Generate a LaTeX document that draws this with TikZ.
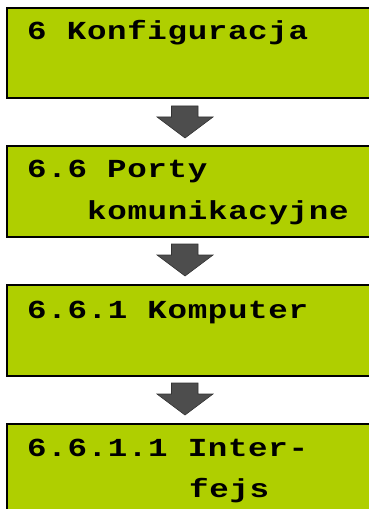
\documentclass[tikz,border=0pt]{standalone}
\usepackage{fontspec}
\newfontfamily\lcdfont[FakeStretch=1.25,LetterSpace=2.5]{Liberation Mono}
\definecolor{lcdgreen}{RGB}{175,207,0}
\definecolor{arrowgray}{RGB}{77,77,77}
\begin{document}
\begin{tikzpicture}[x=1bp,y=-1bp,
  lcdbox/.style={fill=lcdgreen,draw=black,line width=1.3bp},
  lcdtext/.style={anchor=base west,inner sep=0pt,font=\lcdfont\bfseries\fontsize{26bp}{40bp}\selectfont},
  downarrow/.style={fill=arrowgray,draw=black!80,line width=0.6bp}]
\useasboundingbox (0,0) rectangle (368,509);
% boxes
\path[lcdbox] (7,8) rectangle (372,98);
\path[lcdbox] (7,146) rectangle (372,237);
\path[lcdbox] (7,285) rectangle (372,376);
\path[lcdbox] (7,424) rectangle (372,515);
% texts
\node[lcdtext] (t1) at (27,40) {6 Konfiguracja};
\node[lcdtext] (t2a) at (27,178) {6.6 Porty};
\node[lcdtext] (t2b) at (87,219) {komunikacyjne};
\node[lcdtext] (t3) at (27,318) {6.6.1 Komputer};
\node[lcdtext] (t4a) at (27,456) {6.6.1.1 Inter-};
\node[lcdtext] (t4b) at (189,497) {fejs};
% arrows
\foreach \n/\top in {a1/106,a2/244,a3/383}{
  \path[downarrow] (171.5,\top) -- (198,\top) -- (198,\top+11) -- (213,\top+11)
     -- (185,\top+32) coordinate (\n) -- (157,\top+11) -- (171.5,\top+11) -- cycle;
}
\end{tikzpicture}
\end{document}
